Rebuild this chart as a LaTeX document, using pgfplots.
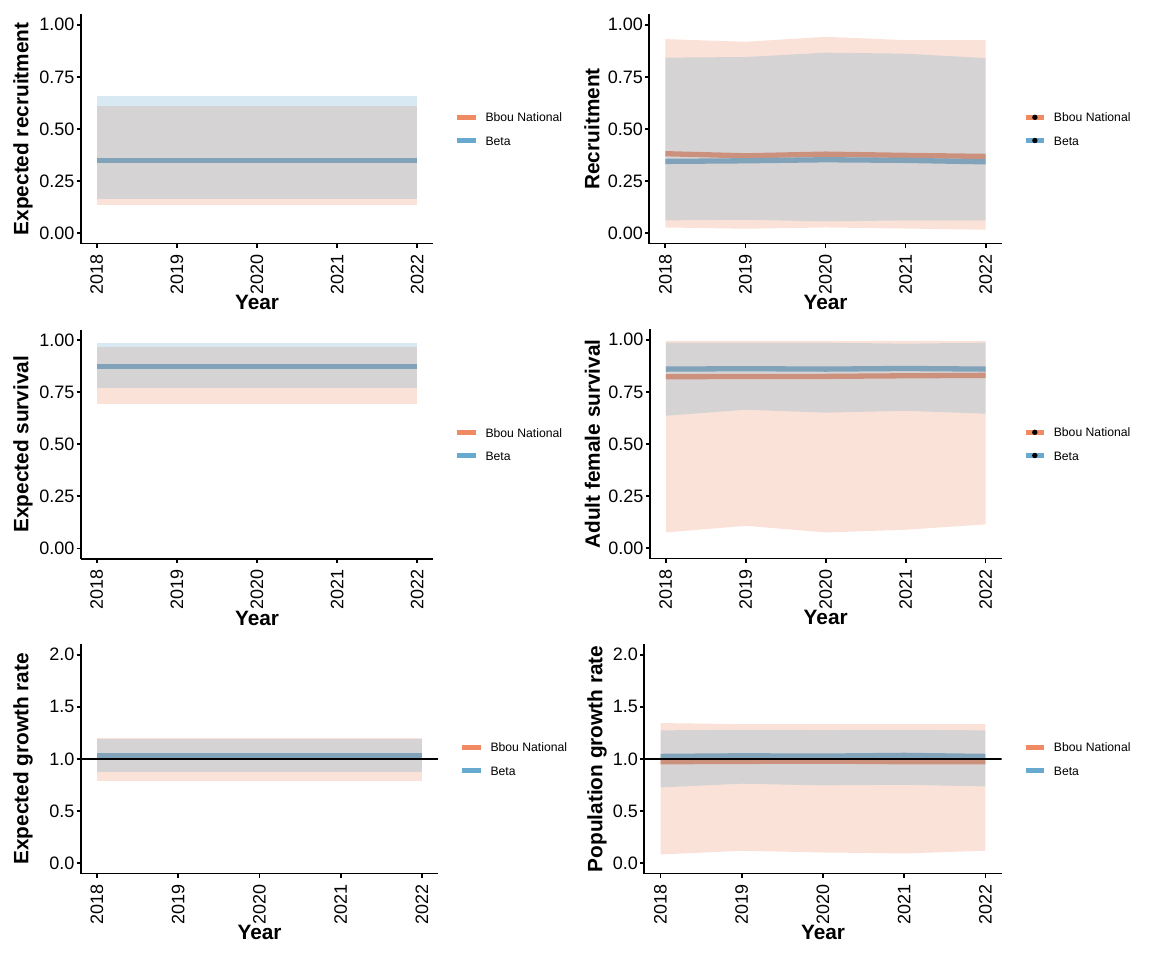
\documentclass[border=0pt]{standalone}
\usepackage{fontspec}
\setmainfont{Liberation Sans}
\usepackage{pgfplots}
\pgfplotsset{compat=1.18}

\definecolor{bbou}{HTML}{EF8A62}
\definecolor{beta}{HTML}{67A9CF}

\pgfplotsset{
  panel/.style={
    scale only axis, height=114.6pt,
    axis x line=bottom, axis y line=left,
    axis line style={-, line width=0.85pt},
    tick align=outside, major tick length=2pt,
    every tick/.style={black, line width=0.85pt},
    xmin=2017.8, xmax=2022.2, xtick={2018,2019,2020,2021,2022},
    /pgf/number format/assume math mode=true,
    tick label style={font=\fontsize{9}{10}\selectfont},
    xticklabel style={/pgf/number format/1000 sep={}, inner sep=0pt, yshift=-3.2pt, rotate=90, anchor=east},
    every axis x label/.style={at={(axis description cs:0.5,0)}, anchor=center, yshift=-29.7pt},
    every axis y label/.style={at={(axis description cs:0,0.5)}, rotate=90, anchor=center},
    label style={font=\bfseries\fontsize{10.4}{12}\selectfont},
    xlabel={Year},
    legend style={draw=none, fill=none, at={(rel axis cs:1,0.5)}, anchor=west, xshift=10.5pt,
      inner sep=0pt, row sep=7.1pt, font=\fontsize{6.1}{7}\selectfont,
      nodes={inner sep=0pt, text height=4.5pt, text depth=0pt},
      /tikz/every odd column/.style={column sep=3.6pt}},
    legend cell align=left,
  },
  unit/.style={ymin=-0.05, ymax=1.05, ytick={0,0.25,0.5,0.75,1},
    yticklabel style={/pgf/number format/fixed, /pgf/number format/fixed zerofill, /pgf/number format/precision=2, inner sep=0pt, xshift=-1pt}},
  growth/.style={ymin=-0.1, ymax=2.1, ytick={0,0.5,1,1.5,2},
    yticklabel style={/pgf/number format/fixed, /pgf/number format/fixed zerofill, /pgf/number format/precision=1, inner sep=0pt, xshift=-1pt}},
  keyline/.style={legend image code/.code={\draw[##1, line width=2.65pt] (0pt,0pt) -- (9.15pt,0pt);}},
  keydot/.style={legend image code/.code={\draw[##1, line width=2.65pt] (0pt,0pt) -- (9.15pt,0pt); \path[fill=black, draw=none] (4.575pt,0pt) circle (1.35pt);}},
  est/.style={#1, line width=2.65pt},
  rib/.style={fill=#1, fill opacity=0.25, draw=none, forget plot},
}

\begin{document}
\begin{tikzpicture}
\useasboundingbox (0pt,0pt) rectangle (576pt,-480pt);

% top left: expected recruitment
\begin{axis}[panel, unit, keyline, at={(40.35pt,-121.75pt)}, anchor=south west, width=176.3pt,
  ylabel={Expected recruitment}, ylabel style={yshift=28.85pt}]
\addplot[est=bbou] coordinates {(2018,0.35) (2019,0.35) (2020,0.35) (2021,0.35) (2022,0.35)};
\addlegendentry{Bbou National}
\addplot[est=beta] coordinates {(2018,0.35) (2019,0.35) (2020,0.35) (2021,0.35) (2022,0.35)};
\addlegendentry{Beta}
\addplot[rib=bbou] coordinates {(2018,0.61) (2022,0.61) (2022,0.137) (2018,0.137)};
\addplot[rib=beta] coordinates {(2018,0.658) (2022,0.658) (2022,0.165) (2018,0.165)};
\end{axis}

% top right: recruitment
\begin{axis}[panel, unit, keydot, at={(324.65pt,-121.75pt)}, anchor=south west, width=176.2pt,
  ylabel={Recruitment}, ylabel style={yshift=28.65pt}]
\addplot[est=bbou] coordinates {(2018,0.381) (2019,0.371) (2020,0.379) (2021,0.373) (2022,0.368)};
\addlegendentry{Bbou National}
\addplot[est=beta] coordinates {(2018,0.344) (2019,0.347) (2020,0.352) (2021,0.349) (2022,0.342)};
\addlegendentry{Beta}
\addplot[rib=bbou] coordinates {(2018,0.931) (2019,0.918) (2020,0.942) (2021,0.926) (2022,0.926)
  (2022,0.016) (2021,0.022) (2020,0.027) (2019,0.021) (2018,0.027)};
\addplot[rib=beta] coordinates {(2018,0.842) (2019,0.845) (2020,0.866) (2021,0.861) (2022,0.840)
  (2022,0.061) (2021,0.061) (2020,0.056) (2019,0.064) (2018,0.061)};
\end{axis}

% middle left: expected survival
\begin{axis}[panel, unit, keyline, at={(40.35pt,-279.4pt)}, anchor=south west, width=176.3pt,
  ylabel={Expected survival}, ylabel style={yshift=28.85pt}]
\addplot[est=bbou] coordinates {(2018,0.872) (2019,0.872) (2020,0.872) (2021,0.872) (2022,0.872)};
\addlegendentry{Bbou National}
\addplot[est=beta] coordinates {(2018,0.872) (2019,0.872) (2020,0.872) (2021,0.872) (2022,0.872)};
\addlegendentry{Beta}
\addplot[rib=bbou] coordinates {(2018,0.965) (2022,0.965) (2022,0.691) (2018,0.691)};
\addplot[rib=beta] coordinates {(2018,0.984) (2022,0.984) (2022,0.772) (2018,0.772)};
\end{axis}

% middle right: adult female survival
\begin{axis}[panel, unit, keydot, at={(324.9pt,-279.25pt)}, anchor=south west, width=175.9pt,
  ylabel={Adult female survival}, ylabel style={yshift=28.7pt}]
\addplot[est=bbou] coordinates {(2018,0.822) (2019,0.824) (2020,0.824) (2021,0.827) (2022,0.829)};
\addlegendentry{Bbou National}
\addplot[est=beta] coordinates {(2018,0.859) (2019,0.861) (2020,0.859) (2021,0.862) (2022,0.859)};
\addlegendentry{Beta}
\addplot[rib=bbou] coordinates {(2018,0.995) (2019,0.995) (2020,0.995) (2021,0.995) (2022,0.995)
  (2022,0.114) (2021,0.088) (2020,0.075) (2019,0.107) (2018,0.075)};
\addplot[rib=beta] coordinates {(2018,0.986) (2019,0.986) (2020,0.986) (2021,0.981) (2022,0.986)
  (2022,0.645) (2021,0.659) (2020,0.650) (2019,0.664) (2018,0.635)};
\end{axis}

% bottom left: expected growth rate
\begin{axis}[panel, growth, keyline, at={(40.35pt,-436.75pt)}, anchor=south west, width=178.8pt,
  ylabel={Expected growth rate}, ylabel style={yshift=28.85pt}]
\addplot[est=bbou] coordinates {(2018,1.034) (2019,1.034) (2020,1.034) (2021,1.034) (2022,1.034)};
\addlegendentry{Bbou National}
\addplot[est=beta] coordinates {(2018,1.034) (2019,1.034) (2020,1.034) (2021,1.034) (2022,1.034)};
\addlegendentry{Beta}
\addplot[rib=bbou] coordinates {(2018,1.200) (2022,1.200) (2022,0.790) (2018,0.790)};
\addplot[rib=beta] coordinates {(2018,1.195) (2022,1.195) (2022,0.877) (2018,0.877)};
\addplot[black, line width=0.7pt, forget plot] coordinates {(2017.8,1) (2022.2,1)};
\end{axis}

% bottom right: population growth rate
\begin{axis}[panel, growth, keyline, at={(322.15pt,-436.75pt)}, anchor=south west, width=178.7pt,
  ylabel={Population growth rate}, ylabel style={yshift=23.65pt}]
\addplot[est=bbou] coordinates {(2018,0.973) (2019,0.976) (2020,0.979) (2021,0.973) (2022,0.973)};
\addlegendentry{Bbou National}
\addplot[est=beta] coordinates {(2018,1.024) (2019,1.030) (2020,1.027) (2021,1.034) (2022,1.024)};
\addlegendentry{Beta}
\addplot[rib=bbou] coordinates {(2018,1.344) (2019,1.334) (2020,1.334) (2021,1.334) (2022,1.334)
  (2022,0.118) (2021,0.093) (2020,0.102) (2019,0.118) (2018,0.083)};
\addplot[rib=beta] coordinates {(2018,1.274) (2019,1.280) (2020,1.277) (2021,1.280) (2022,1.274)
  (2022,0.736) (2021,0.752) (2020,0.746) (2019,0.762) (2018,0.726)};
\addplot[black, line width=0.7pt, forget plot] coordinates {(2017.8,1) (2022.2,1)};
\end{axis}
\end{tikzpicture}
\end{document}
